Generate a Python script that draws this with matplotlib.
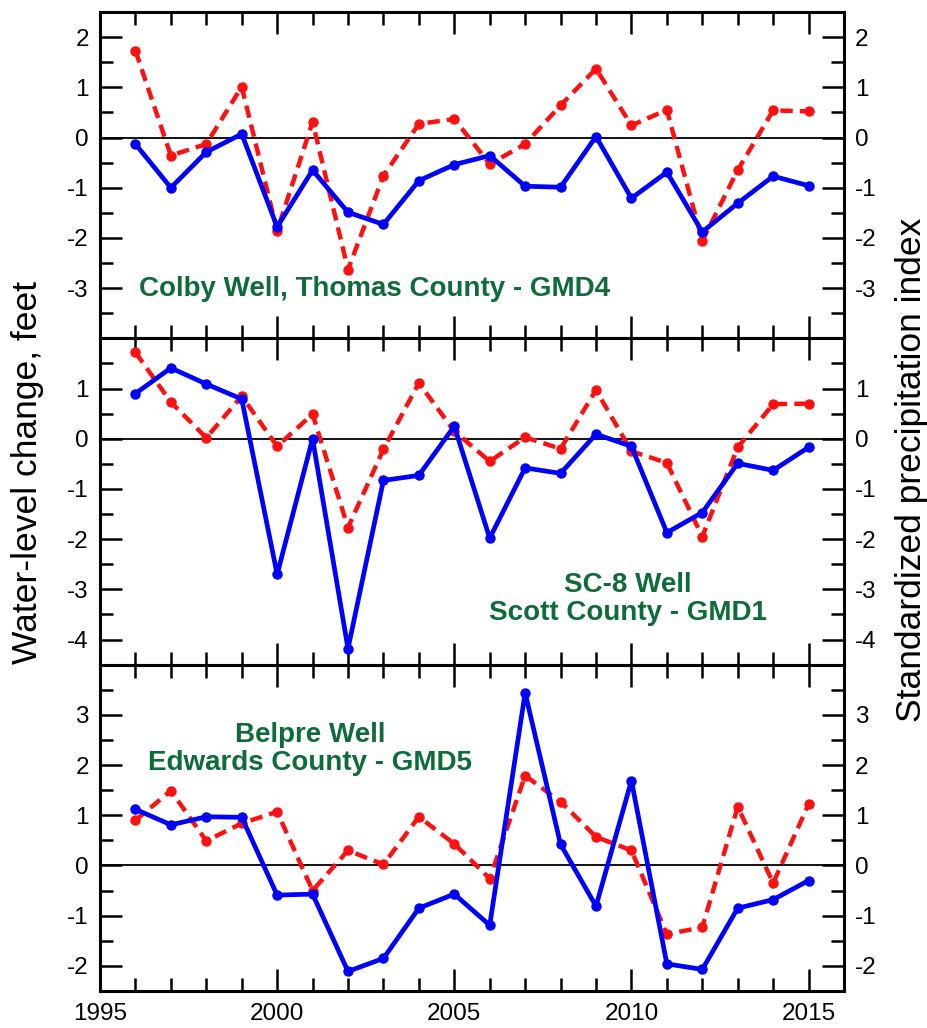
import matplotlib
matplotlib.use("Agg")
import matplotlib.pyplot as plt
from matplotlib.ticker import FixedLocator

plt.rcParams['font.family'] = ['Liberation Sans', 'DejaVu Sans']
plt.rcParams['axes.unicode_minus'] = False

years = list(range(1996, 2016))

colby_water = [-0.13, -1.00, -0.29, 0.07, -1.78, -0.65, -1.49, -1.73, -0.86, -0.54,
               -0.36, -0.97, -0.99, 0.02, -1.21, -0.69, -1.88, -1.31, -0.77, -0.96]
colby_spi = [1.73, -0.36, -0.13, 1.01, -1.86, 0.31, -2.63, -0.76, 0.27, 0.37,
             -0.53, -0.13, 0.64, 1.37, 0.24, 0.55, -2.06, -0.65, 0.54, 0.52]

sc8_water = [0.90, 1.41, 1.09, 0.79, -2.70, 0.00, -4.18, -0.83, -0.73, 0.25,
             -1.98, -0.58, -0.69, 0.09, -0.15, -1.87, -1.47, -0.49, -0.63, -0.17]
sc8_spi = [1.72, 0.73, 0.02, 0.85, -0.15, 0.49, -1.77, -0.21, 1.11, 0.15,
           -0.45, 0.03, -0.20, 0.97, -0.25, -0.48, -1.95, -0.17, 0.69, 0.70]

belpre_water = [1.12, 0.81, 0.97, 0.96, -0.59, -0.57, -2.11, -1.85, -0.85, -0.57,
                -1.19, 3.44, 0.42, -0.81, 1.69, -1.96, -2.07, -0.85, -0.68, -0.30]
belpre_spi = [0.90, 1.49, 0.49, 0.84, 1.07, -0.50, 0.30, 0.02, 0.97, 0.43,
              -0.26, 1.79, 1.27, 0.57, 0.30, -1.37, -1.23, 1.17, -0.35, 1.22]

panels = [
    dict(water=colby_water, spi=colby_spi, ylim=(-4, 2.5),
         major=[-3, -2, -1, 0, 1, 2],
         minor=[-3.5, -2.5, -1.5, -0.5, 0.5, 1.5],
         label="Colby Well, Thomas County - GMD4", lx=2002.76, ly=-3.02),
    dict(water=sc8_water, spi=sc8_spi, ylim=(-4.5, 2),
         major=[-4, -3, -2, -1, 0, 1],
         minor=[-3.5, -2.5, -1.5, -0.5, 0.5, 1.5],
         label="SC-8 Well\nScott County - GMD1", lx=2009.9, ly=-3.2),
    dict(water=belpre_water, spi=belpre_spi, ylim=(-2.5, 4),
         major=[-2, -1, 0, 1, 2, 3],
         minor=[-1.5, -0.5, 0.5, 1.5, 2.5, 3.5],
         label="Belpre Well\nEdwards County - GMD5", lx=2000.93, ly=2.33),
]

fig = plt.figure(figsize=(9.28, 10.28), dpi=100)
left = 100 / 928
width = (844 - 100) / 928
top_px, bot_px = 12, 991
h_px = (bot_px - top_px) / 3

blue = '#0000ff'
red = '#ff1010'
green = '#0e6b3a'

for i, p in enumerate(panels):
    ytop = top_px + i * h_px
    ax = fig.add_axes([left, 1 - (ytop + h_px) / 1028, width, h_px / 1028])
    ax.axhline(0, color='black', lw=1.3, zorder=1)
    ax.plot(years, p['spi'], color=red, lw=3.2, ls=(0, (2.8, 1.6)),
            marker='o', ms=6.5, zorder=2)
    ax.plot(years, p['water'], color=blue, lw=3.4, ls='-',
            marker='o', ms=6.5, zorder=3)
    ax.set_xlim(1995, 2016)
    ax.set_ylim(*p['ylim'])
    ax.xaxis.set_major_locator(FixedLocator([1995, 2000, 2005, 2010, 2015]))
    ax.xaxis.set_minor_locator(FixedLocator(years))
    ax.yaxis.set_major_locator(FixedLocator(p['major']))
    ax.yaxis.set_minor_locator(FixedLocator(p['minor']))
    ax.tick_params(axis='both', which='both', direction='in',
                   top=True, bottom=True, left=True, right=True,
                   labelleft=True, labelright=True, labelsize=17.5)
    ax.tick_params(axis='both', which='major', length=16, width=1.8, pad=8)
    ax.tick_params(axis='both', which='minor', length=9.5, width=1.8)
    if i < 2:
        ax.tick_params(axis='x', labelbottom=False)
    else:
        ax.tick_params(axis='x', which='major', pad=9)
    for s in ax.spines.values():
        s.set_linewidth(2.2)
    ax.text(p['lx'], p['ly'], p['label'], color=green, fontsize=20,
            fontweight='bold', ha='center', va='center', linespacing=1.1)

fig.text(28 / 928, 1 - 472 / 1028, "Water-level change, feet", rotation=90,
         ha='center', va='center', fontsize=25.5)
fig.text(912 / 928, 1 - 470 / 1028, "Standardized precipitation index", rotation=90,
         ha='center', va='center', fontsize=25.5)

fig.savefig("out.png", dpi=100)
